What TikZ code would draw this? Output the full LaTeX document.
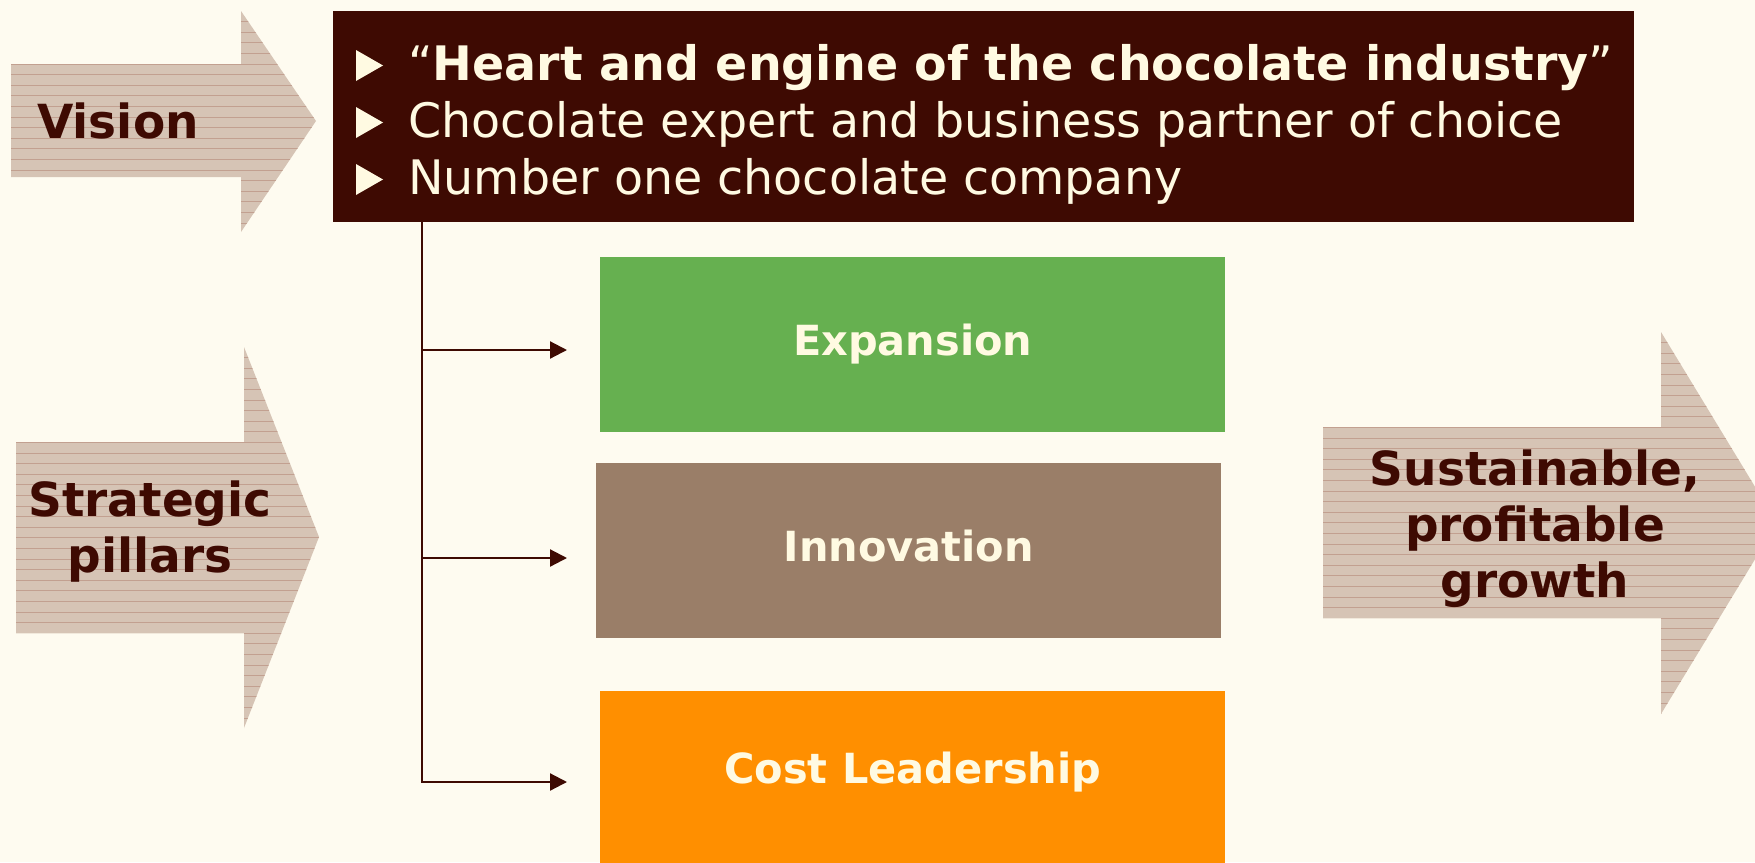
\documentclass[tikz,border=0pt]{standalone}
\usepackage{fontspec}
\setmainfont{DejaVu Sans}
\usepackage{tikz}
\usetikzlibrary{arrows.meta}
\usetikzlibrary{calc}
\definecolor{cpaper}  {RGB}{254,251,240}
\definecolor{cdark}   {RGB}{62,10,2}
\definecolor{ccream}  {RGB}{255,250,226}
\definecolor{ctan}    {RGB}{214,196,181}
\definecolor{cstripe} {RGB}{194,160,144}
\definecolor{pgreen}  {RGB}{102,176,80}
\definecolor{pbrown}  {RGB}{154,126,104}
\definecolor{porange} {RGB}{255,143,0}
\tikzset{
    bigarrow/.style={fill=ctan, path picture={
        \foreach \k in {1,...,45}
          \draw[cstripe,line width=0.9pt] ($(path picture bounding box.north west)+(0,\k*10.6)$) -- ++(700,0);
    }},
    armtext/.style={font=\bfseries\fontsize{47}{56}\selectfont, text=cdark, align=center, inner sep=0},
    headbox/.style={fill=cdark, minimum width=1301pt, minimum height=211pt, inner sep=0, anchor=north west},
    headline/.style={font=\fontsize{47.5}{57}\selectfont, text=ccream, anchor=base west, inner sep=0},
    pillar/.style={minimum width=625pt, minimum height=175pt, inner sep=0, anchor=north west,
      font=\bfseries\fontsize{41.5}{50}\selectfont, text=ccream, text height=30pt, text depth=8pt},
    link/.style={draw=cdark, line width=2.2pt, -{Triangle[length=17pt,width=17pt]}}
  }
\begin{document}
\begin{tikzpicture}[x=1pt, y=-1pt]
  \useasboundingbox (0,0) rectangle (1755,862);
  \fill[cpaper] (0,0) rectangle (1755,862);
  %Vision arrow
      \path[bigarrow] (11,64) -- (241,64) -- (241,11) -- (316,121) -- (241,232) -- (241,177) -- (11,177) -- cycle;
      \node[armtext, anchor=base] (lblvision) at (118,138) {Vision};
  %Strategic pillars arrow
      \path[bigarrow] (16,442) -- (244,442) -- (244,347) -- (319,537) -- (244,728) -- (244,633) -- (16,633) -- cycle;
      \node[armtext] (lblpillars) at (150,532) {Strategic\\pillars};
  %Growth arrow
      \path[bigarrow] (1323,427) -- (1661,427) -- (1661,332) -- (1777,523) -- (1661,714) -- (1661,618) -- (1323,618) -- cycle;
      \node[armtext] (lblgrowth) at (1535,529) {Sustainable,\\profitable\\growth};
  % vision box
      \node[headbox] (head) at (333,11) {};
      \node[headline] (lineA) at (408,80) {“\textbf{Heart and engine of the chocolate industry}”};
      \node[headline] (lineB) at (408,137) {Chocolate expert and business partner of choice};
      \node[headline] (lineC) at (408,194) {Number one chocolate company};
  % bullets
      \foreach \l in {lineA,lineB,lineC}
        \fill[ccream] ($(\l.base west)+(-52,1)$) -- ++(27,-15.5) -- ++(-27,-15.5) -- cycle;
  % pillars
      \node[pillar, fill=pgreen] (expansion) at (600,257) {Expansion};
      \node[pillar, fill=pbrown] (innovation) at (596,463) {Innovation};
      \node[pillar, fill=porange, minimum height=190pt, text depth=36pt] (cost) at (600,691) {Cost Leadership};
  % connectors
      \coordinate (root) at (422,222);
      \coordinate (tipA) at (567,350);
      \coordinate (tipB) at (567,558);
      \coordinate (tipC) at (567,782);
      \draw[link] (root) |- (tipC);
      \draw[link] (root |- tipA) -- (tipA);
      \draw[link] (root |- tipB) -- (tipB);
  \end{tikzpicture}
\end{document}
